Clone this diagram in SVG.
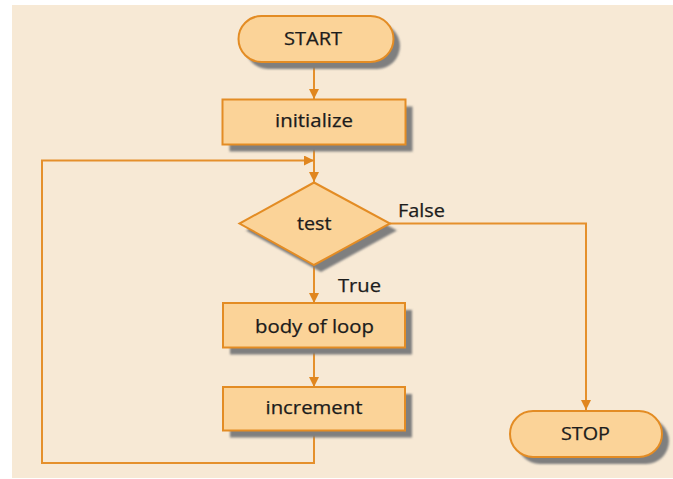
<svg xmlns="http://www.w3.org/2000/svg" width="673" height="479" viewBox="0 0 673 479">
  <defs>
    <marker id="arrow" viewBox="0 0 10 10" refX="10" refY="5" markerWidth="10" markerHeight="10" markerUnits="userSpaceOnUse" orient="auto">
      <path d="M0,0 L10,5 L0,10 z" fill="#E0861F"/>
    </marker>
    <filter id="soft" x="-10%" y="-10%" width="120%" height="120%">
      <feGaussianBlur stdDeviation="0.8"/>
    </filter>
  </defs>
  <style>
    .shadow { fill: #7f7f7f; filter: url(#soft); }
    .shape { fill: #FBD398; stroke: #E38C24; stroke-width: 2; }
    .label { font-family: "Open Sans", "Liberation Sans", sans-serif; font-size: 18px; fill: #1c1c1c; stroke: #1c1c1c; stroke-width: 0.25; }
    .edge { fill: none; stroke: #E5902C; stroke-width: 2; }
  </style>

  <!-- page background -->
  <rect x="0" y="0" width="673" height="479" fill="#ffffff"/>
  <rect x="12" y="5" width="661" height="473" fill="#F7E9D5"/>

  <!-- connectors -->
  <g id="connectors">
    <path class="edge" d="M314,62 L314,99" marker-end="url(#arrow)"/>
    <path class="edge" d="M314,145 L314,182" marker-end="url(#arrow)"/>
    <path class="edge" d="M314,431 L314,463 L42,463 L42,160.5 L314,160.5" marker-end="url(#arrow)"/>
    <path class="edge" d="M314,265 L314,303" marker-end="url(#arrow)"/>
    <path class="edge" d="M314,348 L314,387" marker-end="url(#arrow)"/>
    <path class="edge" d="M390,223.5 L586,223.5 L586,410" marker-end="url(#arrow)"/>
    <text class="label" x="398" y="217" textLength="47" lengthAdjust="spacingAndGlyphs">False</text>
    <text class="label" x="338" y="291.5" textLength="43" lengthAdjust="spacingAndGlyphs">True</text>
  </g>

  <g id="start">
    <rect class="shadow" x="245" y="23" width="155" height="46" rx="23"/>
    <rect class="shape" x="238.5" y="16" width="155" height="46" rx="23"/>
    <text class="label" x="284" y="44.5" textLength="58" lengthAdjust="spacingAndGlyphs">START</text>
  </g>

  <g id="initialize">
    <rect class="shadow" x="229.5" y="106.5" width="183" height="45"/>
    <rect class="shape" x="222.5" y="99.5" width="183" height="45"/>
    <text class="label" x="275" y="127" textLength="78" lengthAdjust="spacingAndGlyphs">initialize</text>
  </g>

  <g id="test">
    <polygon class="shadow" points="321,189 397,230.5 321,272 246,230.5"/>
    <polygon class="shape" points="314,182.5 390,223.5 314,265 239.5,223.5"/>
    <text class="label" x="297" y="229.5" textLength="34.5" lengthAdjust="spacingAndGlyphs">test</text>
  </g>

  <g id="body">
    <rect class="shadow" x="230" y="310" width="182" height="44.5"/>
    <rect class="shape" x="223" y="303" width="182" height="44.5"/>
    <text class="label" x="255" y="333" textLength="119" lengthAdjust="spacingAndGlyphs">body of loop</text>
  </g>

  <g id="increment">
    <rect class="shadow" x="230" y="394" width="182" height="43.5"/>
    <rect class="shape" x="223" y="387" width="182" height="43.5"/>
    <text class="label" x="265.5" y="414" textLength="97" lengthAdjust="spacingAndGlyphs">increment</text>
  </g>

  <g id="stop">
    <rect class="shadow" x="517" y="418" width="152" height="46" rx="23"/>
    <rect class="shape" x="510" y="411" width="152" height="46" rx="23"/>
    <text class="label" x="561" y="440" textLength="49" lengthAdjust="spacingAndGlyphs">STOP</text>
  </g>
</svg>
